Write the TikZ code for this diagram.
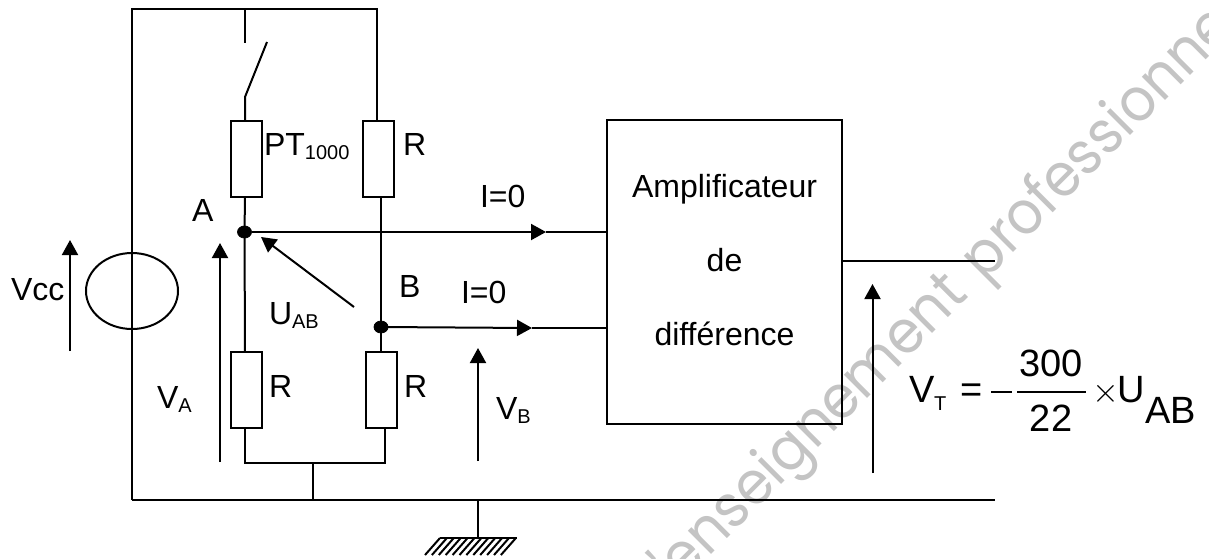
\documentclass[tikz,border=0pt]{standalone}
\usepackage{fontspec}
\setmainfont{Liberation Sans}
\newfontfamily\markfont{Poppins}
\usepackage{xcolor}
\usetikzlibrary{positioning}
\usetikzlibrary{arrows.meta}
\usetikzlibrary{shapes.geometric}
\definecolor{markgrey}{HTML}{C4C4C4}
\newcommand{\subtxt}[1]{\raisebox{-2.2pt}{\fontsize{10}{12}\selectfont #1}}
\tikzset{
  wire/.style={line width=1pt},
  flow/.style={line width=1pt,-{Triangle[length=7.5pt,width=8pt]}},
  res/.style={draw,line width=1pt,minimum width=15.5pt,minimum height=38pt,inner sep=0pt,fill=white},
  dot/.style={draw,fill=black,ellipse,minimum width=7pt,minimum height=6pt,inner sep=0pt},
  lab/.style={anchor=base west,inner sep=0pt,font=\fontsize{16}{19}\selectfont},
  big/.style={anchor=base west,inner sep=0pt,font=\fontsize{19}{23}\selectfont},
  wmark/.style={anchor=base west,inner sep=0pt,rotate=45,text=markgrey,font=\markfont\fontsize{30}{36}\selectfont}
}
\begin{document}
\begin{tikzpicture}[x=0.5pt,y=-0.5pt,node distance=0pt,outer sep=0pt]
\useasboundingbox (0,0) rectangle (1209,558);

% Watermark
\begin{scope}
\clip (0,0) rectangle (1209,558);
\node [wmark,xscale=0.93] (mark_a) at (668,598) {l'enseignement};
\node [wmark,xscale=0.92] (mark_b) at (984,282) {professionnel};
\end{scope}

% Bridge
\node [res] (res_pt) at (246.5,158.5) {};
\node [res] (res_top) at (378.5,158.5) {};
\node [res] (res_left) at (246.5,390) {};
\node [res] (res_right) at (381.5,390) {};
\node [dot] (node_a) at (244.5,232) {};
\node [dot] (node_b) at (381,327) {};

% Block
\node [draw,line width=1pt,minimum width=117.5pt,minimum height=152pt,inner sep=0pt] (amp) at (724.5,272) {};
\node [lab,anchor=base] (amp_l1) at (724.5,197.5) {Amplificateur};
\node [lab,anchor=base] (amp_l2) at (724.5,271) {de};
\node [lab,anchor=base] (amp_l3) at (724.5,345) {différence};

% Source
\node [draw,line width=1pt,ellipse,minimum width=46pt,minimum height=38pt,inner sep=0pt] (source) at (132,291) {};

% Free ends
\coordinate (top_l) at (132,9);
\coordinate (top_r) at (377,9);
\coordinate (top_s) at (245,9);
\coordinate (sw_a) at (245,43);
\coordinate (sw_b) at (267,42);
\coordinate (sw_c) at (245,97);
\coordinate (bot_l) at (132,500);
\coordinate (bot_r) at (995,500);
\coordinate (bot_t) at (313,500);
\coordinate (bot_g) at (478,500);
\coordinate (gnd) at (478,538);
\coordinate (join_l) at (245,463);
\coordinate (join_r) at (385,463);
\coordinate (join_m) at (313,463);
\coordinate (tip_a) at (546,232);
\coordinate (tip_b) at (532,328);
\coordinate (out_r) at (995,260.5);

% Wires
\draw [wire] (bot_l) -- (top_l) -- (top_r) -- (top_r|-res_top.north);
\draw [wire] (top_s) -- (sw_a);
\draw [wire] (sw_b) -- (sw_c) -- (sw_c|-res_pt.north);
\draw [wire] (245,197) -- (node_a) -- (245,352);
\draw [wire] (381,196) -- (node_b) -- (381,352);
\draw [wire] (245,428) -- (join_l) -- (join_r) -- (385,428);
\draw [wire] (join_m) -- (bot_t);
\draw [wire] (bot_l) -- (bot_r);
\draw [wire] (bot_g) -- (gnd);
\draw [wire] (amp.east|-out_r) -- (out_r);

% Currents
\draw [flow] (node_a) -- (tip_a);
\draw [wire] (tip_a) -- (amp.west|-tip_a);
\draw [flow] (node_b) -- (tip_b);
\draw [wire] (tip_b) -- (amp.west|-tip_b);

% Ground
\draw [line width=1pt] (440,538) -- (517,538);
\foreach \i in {0,...,11}
  \draw [line width=1pt] (440+\i*6.9,538) -- (425+\i*6.9,555);

% Voltages
\coordinate (vcc_a) at (70,351);
\coordinate (vcc_b) at (70,240);
\coordinate (va_a) at (220,462);
\coordinate (va_b) at (220,243);
\coordinate (vb_a) at (478,461);
\coordinate (vb_b) at (478,348);
\coordinate (vt_a) at (872.5,473);
\coordinate (vt_b) at (872.5,284);
\coordinate (uab_a) at (354,307);
\coordinate (uab_b) at (261,237);
\draw [flow] (vcc_a) -- (vcc_b);
\draw [flow] (va_a) -- (va_b);
\draw [flow] (vb_a) -- (vb_b);
\draw [flow] (vt_a) -- (vt_b);
\draw [flow] (uab_a) -- (uab_b);

% Labels
\node [lab] (lab_pt) at (264,155) {PT\subtxt{1000}};
\node [lab] (lab_r1) at (403,155) {R};
\node [lab] (lab_a) at (192,221) {A};
\node [lab] (lab_i1) at (480,207) {I=0};
\node [lab] (lab_b) at (399,297) {B};
\node [lab] (lab_i2) at (461,303) {I=0};
\node [lab] (lab_uab) at (269,324) {U\subtxt{AB}};
\node [lab] (lab_vcc) at (11,300) {Vcc};
\node [lab] (lab_r2) at (269,397) {R};
\node [lab] (lab_r3) at (404,397) {R};
\node [lab] (lab_va) at (157,408) {V\subtxt{A}};
\node [lab] (lab_vb) at (496,419) {V\subtxt{B}};

% Formula
\node [big] (eq_v) at (909,402) {V};
\node [inner sep=0pt,anchor=base west,font=\fontsize{10}{12}\selectfont] (eq_t) at (934,410) {T};
\node [big] (eq_eq) at (960,402) {=};
\node [big,anchor=base] (eq_num) at (1051,376.5) {300};
\node [big,anchor=base] (eq_den) at (1051,431) {22};
\node [big] (eq_u) at (1117,402) {U};
\node [big] (eq_ab) at (1145,423.5) {AB};
\node [big] (eq_x) at (1092,402) {$\times$};
\coordinate (bar_a) at (1017,392);
\coordinate (bar_b) at (1086,392);
\coordinate (min_a) at (991,392);
\coordinate (min_b) at (1012,392);
\draw [line width=0.8pt] (bar_a) -- (bar_b);
\draw [line width=0.8pt] (min_a) -- (min_b);

\end{tikzpicture}
\end{document}
